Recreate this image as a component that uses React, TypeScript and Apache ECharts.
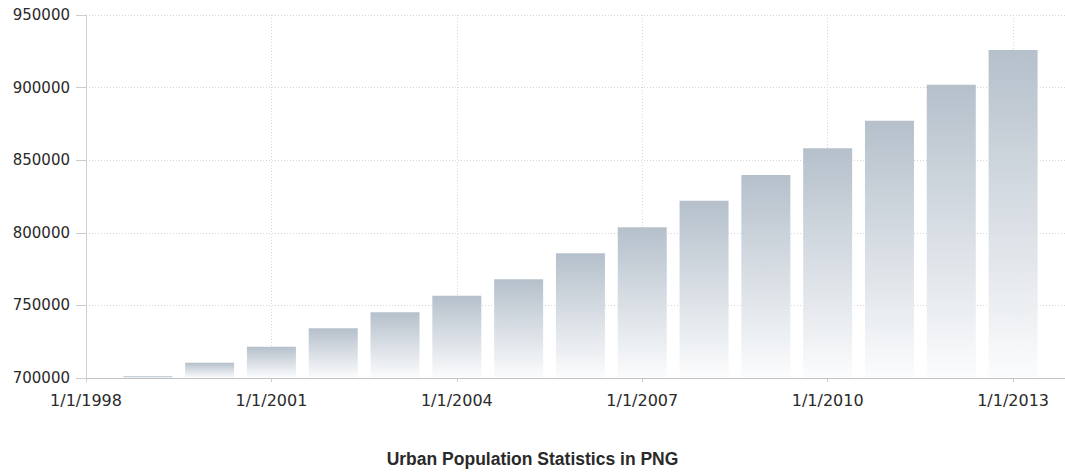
import React, { useEffect, useRef } from "react";
import * as echarts from "echarts";

const years = [1999, 2000, 2001, 2002, 2003, 2004, 2005, 2006, 2007, 2008, 2009, 2010, 2011, 2012, 2013];
const population = [701400, 710500, 721600, 734200, 745200, 756700, 768000, 785900, 803800, 822100, 839800, 858200, 877200, 902000, 925900];
const titleText = "Urban Population Statistics in PNG";

export default function App() {
  const ref = useRef<HTMLDivElement>(null);
  useEffect(() => {
    if (!ref.current) return;
    const chart = echarts.init(ref.current, null, { renderer: "svg" });
    chart.setOption({
      animation: false,
      backgroundColor: "#ffffff",
      title: {
        text: titleText,
        left: "center",
        top: 445,
        textStyle: { fontFamily: "Liberation Sans, Arial", fontWeight: "bold", fontSize: 17.5, color: "#2a2a2a" },
      },
      grid: { left: 86, top: 15, right: -3, bottom: 98, containLabel: false },
      xAxis: {
        type: "value",
        min: 1998,
        max: 2013.84,
        interval: 3,
        axisLine: { show: true, lineStyle: { color: "#c4c4c4", width: 1 } },
        axisTick: { show: true, length: 4, lineStyle: { color: "#cccccc" } },
        splitLine: { show: true, lineStyle: { color: "#d6d6d6", type: [1, 2], width: 1 } },
        axisLabel: {
          margin: 14,
          fontFamily: "DejaVu Sans, Verdana",
          fontSize: 16,
          color: "#2a2a2a",
          showMaxLabel: false,
          formatter: (v: number) => (Number.isInteger(v) ? "1/1/" + v : ""),
        },
      },
      yAxis: {
        type: "value",
        min: 700000,
        max: 950000,
        interval: 50000,
        axisLine: { show: true, lineStyle: { color: "#cfcfcf", width: 1 } },
        axisTick: { show: true, length: 10, lineStyle: { color: "#cccccc" } },
        splitLine: { show: true, lineStyle: { color: "#d6d6d6", type: [1, 2], width: 1 } },
        axisLabel: {
          margin: 16,
          fontFamily: "DejaVu Sans, Verdana",
          fontSize: 15,
          color: "#2a2a2a",
          formatter: (v: number) => String(v),
        },
      },
      series: [
        {
          type: "bar",
          barWidth: 49,
          data: years.map((y, i) => [y, population[i]]),
          itemStyle: {
            color: new echarts.graphic.LinearGradient(0, 0, 0, 1, [
              { offset: 0, color: "#b5c0cb" },
              { offset: 1, color: "#fbfcfd" },
            ]),
          },
        },
      ],
    });
    return () => chart.dispose();
  }, []);
  return (
    <div
      ref={ref}
      style={{ position: "absolute", left: 0, top: 0, width: 1065, height: 476 }}
    />
  );
}
